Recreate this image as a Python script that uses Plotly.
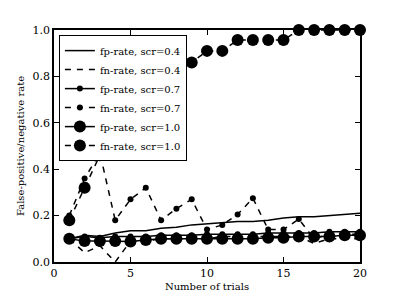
import plotly.graph_objects as go

trials = list(range(1, 21))
fp_04 = [0.10, 0.115, 0.11, 0.125, 0.135, 0.135, 0.145, 0.15, 0.16, 0.165,
         0.17, 0.175, 0.175, 0.18, 0.19, 0.195, 0.195, 0.20, 0.205, 0.21]
fn_04 = [0.10, 0.04, 0.07, 0.0, 0.09, 0.09, 0.10, 0.10, 0.10, 0.10,
         0.11, 0.11, 0.11, 0.11, 0.11, 0.11, 0.08, 0.10, 0.10, 0.10]
fp_07 = [0.10, 0.11, 0.105, 0.11, 0.11, 0.11, 0.115, 0.115, 0.115, 0.12,
         0.12, 0.12, 0.12, 0.125, 0.125, 0.125, 0.125, 0.13, 0.13, 0.13]
fn_07 = [0.20, 0.36, 0.47, 0.18, 0.27, 0.32, 0.18, 0.23, 0.27, 0.14,
         0.16, 0.205, 0.275, 0.14, 0.14, 0.185, 0.10, 0.12, 0.12, 0.12]
fp_10 = [0.10, 0.09, 0.09, 0.09, 0.088, 0.095, 0.10, 0.10, 0.10, 0.10,
         0.10, 0.10, 0.10, 0.105, 0.105, 0.11, 0.11, 0.11, 0.115, 0.115]
fn_10 = [0.18, 0.32, 0.46, 0.62, 0.70, 0.76, 0.80, 0.84, 0.86, 0.91,
         0.91, 0.957, 0.957, 0.957, 0.957, 1.0, 1.0, 1.0, 1.0, 1.0]

series = [
    ("fp-rate, scr=0.4", fp_04, "solid", 0),
    ("fn-rate, scr=0.4", fn_04, "6px,6px", 0),
    ("fp-rate, scr=0.7", fp_07, "solid", 6),
    ("fn-rate, scr=0.7", fn_07, "6px,6px", 6),
    ("fp-rate, scr=1.0", fp_10, "solid", 12),
    ("fn-rate, scr=1.0", fn_10, "6px,6px", 12),
]

fig = go.Figure()
for name, ys, dash, msize in series:
    fig.add_trace(go.Scatter(
        x=trials, y=ys, name=name,
        mode="lines+markers" if msize else "lines",
        line=dict(color="black", width=1.5, dash=dash),
        marker=dict(color="black", size=msize if msize else 1),
        cliponaxis=False,
    ))

font = dict(family="DejaVu Serif, Liberation Serif, serif", color="black")
axis_common = dict(
    showline=True, linecolor="black", linewidth=1.5, mirror="ticks",
    ticks="inside", ticklen=5, tickcolor="black", tickwidth=1,
    showgrid=False, zeroline=False, tickfont=dict(size=11),
)
fig.update_layout(
    width=400, height=300,
    margin=dict(l=42, r=48, t=22, b=46),
    paper_bgcolor="white", plot_bgcolor="white",
    font=dict(size=10, **font),
    showlegend=True,
    legend=dict(
        x=0.016, y=0.978, xanchor="left", yanchor="top",
        bgcolor="white", bordercolor="black", borderwidth=1,
        font=dict(size=10), tracegroupgap=0, itemwidth=30,
    ),
    xaxis=dict(range=[0, 20], tickvals=[0, 5, 10, 15, 20],
               title=dict(text="Number of trials", standoff=4, font=dict(size=10)),
               **axis_common),
    yaxis=dict(range=[0, 1.0], tickvals=[0, 0.2, 0.4, 0.6, 0.8, 1.0],
               tickformat=".1f",
               title=dict(text="False-positive/negative rate", standoff=6, font=dict(size=10)),
               **axis_common),
)
fig.write_html("out.html")
